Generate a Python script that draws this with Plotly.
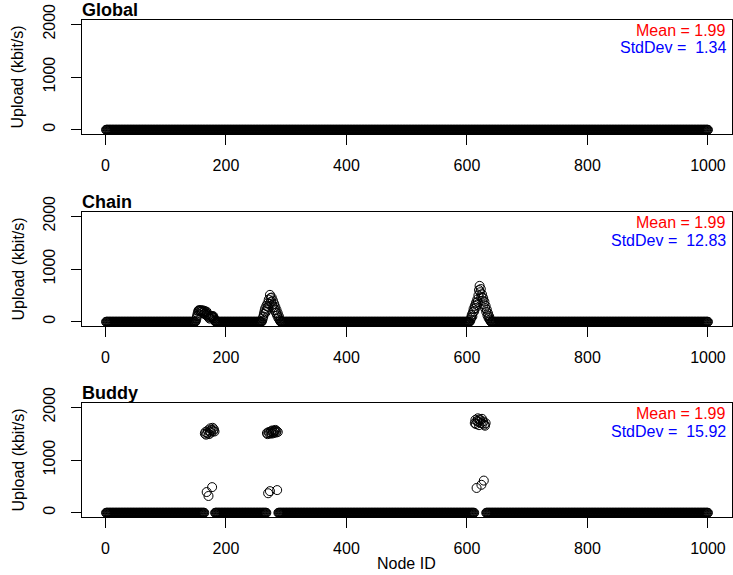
import plotly.graph_objects as go

# ---------------- data ----------------
NODE_IDS = list(range(1, 1001))
X_TICKS = [0, 200, 400, 600, 800, 1000]
Y_TICKS = [0, 1000, 2000]

PANEL_NAMES = ["Global", "Chain", "Buddy"]
PANEL_MEANS = ["1.99", "1.99", "1.99"]
PANEL_SDS = ["1.34", "12.83", "15.92"]

# every node not listed below sits at ~0 kbit/s
BASELINE_UPLOAD = 0.0

global_peak_nodes = []
global_peak_values = []

chain_peak_nodes = [
    150, 151, 152, 153, 154, 155, 156, 157, 158, 159, 160, 161, 162, 163, 164,
    165, 166, 167, 168, 169, 170, 171, 172, 173, 174, 175, 176, 177, 178, 179,
    180, 181, 182,
    260, 261, 262, 263, 264, 265, 266, 267, 268, 269, 270, 271, 272, 273, 274,
    275, 276, 277, 278, 279, 280, 281, 282, 283, 284, 285, 286, 287, 288, 289, 290,
    605, 606, 607, 608, 609, 610, 611, 612, 613, 614, 615, 616, 617, 618, 619,
    620, 621, 622, 623, 624, 625, 626, 627, 628, 629, 630, 631, 632, 633, 634,
    635, 636, 637, 638, 639,
]
chain_peak_values = [
    20, 60, 110, 160, 200, 220, 210, 215, 190, 220, 200, 170, 215, 185, 150,
    205, 175, 130, 190, 150, 100, 130, 80, 60, 90, 110, 100, 110, 90, 105,
    70, 40, 15,
    20, 60, 100, 150, 200, 250, 180, 300, 230, 350, 280, 420, 340, 510, 450,
    380, 460, 320, 400, 270, 340, 220, 280, 170, 220, 120, 160, 70, 100, 40, 15,
    10, 40, 80, 130, 100, 180, 240, 200, 300, 260, 360, 320, 420, 380, 500,
    600, 680, 560, 620, 470, 520, 400, 450, 330, 380, 260, 300, 190, 230, 120,
    160, 70, 100, 40, 20,
]

buddy_peak_nodes = [
    165, 166, 167, 168, 169, 170, 171, 172, 173, 174, 175, 176, 177, 178, 179, 180, 181,
    268, 269, 270, 271, 272, 273, 274, 275, 276, 277, 278, 279, 280, 281, 282, 283, 284, 285, 286,
    613, 614, 615, 616, 617, 618, 619, 620, 621, 622, 623, 624, 625, 626, 627, 628, 629, 630, 631,
]
buddy_peak_values = [
    1500, 1530, 1480, 393, 1510, 1560, 318, 1490, 1540, 1600, 1520, 1570, 486, 1610, 1550, 1580, 1540,
    1510, 1490, 370, 1530, 1500, 410, 1520, 1545, 1500, 1560, 1530, 1510, 1555, 1540, 1570, 1520, 1550, 430, 1530,
    1700, 1760, 1680, 470, 1740, 1790, 1720, 1660, 1770, 1750, 1700, 530, 1780, 1690, 1730, 610, 1670, 1650, 1700,
]


def build_series(peak_nodes, peak_values):
    vals = [BASELINE_UPLOAD for _ in NODE_IDS]
    for n, v in zip(peak_nodes, peak_values):
        vals[n - 1] = v
    return vals


series = [
    build_series(global_peak_nodes, global_peak_values),
    build_series(chain_peak_nodes, chain_peak_values),
    build_series(buddy_peak_nodes, buddy_peak_values),
]

# ---------------- layout geometry ----------------
W, H = 733, 575
ML, MR, MT, MB = 82, 1, 20, 58
PH = H - MT - MB
frames = [(20, 134), (212, 326), (403, 517)]  # pixel top/bottom of each panel
FONT = "Liberation Sans, Arial, Helvetica, sans-serif"

fig = go.Figure()
layout = dict(
    width=W, height=H,
    margin=dict(l=ML, r=MR, t=MT, b=MB, autoexpand=False),
    paper_bgcolor="white", plot_bgcolor="white",
    showlegend=False,
    font=dict(family=FONT, size=16, color="black"),
)
annotations = []

for i, name in enumerate(PANEL_NAMES):
    sfx = "" if i == 0 else str(i + 1)
    fig.add_trace(go.Scatter(
        x=NODE_IDS, y=series[i], mode="markers",
        xaxis="x" + sfx, yaxis="y" + sfx,
        marker=dict(symbol="circle-open", size=9, color="black",
                    line=dict(width=1, color="black")),
        hoverinfo="x+y",
    ))
    top, bot = frames[i]
    dom = [(MT + PH - bot) / PH, (MT + PH - top) / PH]
    axis_common = dict(
        ticks="outside", ticklen=10, tickwidth=1, tickcolor="black",
        showline=True, mirror=True, linecolor="black", linewidth=1,
        showgrid=False, zeroline=False, automargin=False,
        tickfont=dict(family=FONT, size=16, color="black"),
        ticklabeloverflow="allow",
    )
    layout["xaxis" + sfx] = dict(
        domain=[0, 1], anchor="y" + sfx, range=[-38.96, 1039.96],
        tickvals=X_TICKS, ticktext=[str(t) for t in X_TICKS],
        ticklabelstandoff=7, **axis_common)
    layout["yaxis" + sfx] = dict(
        domain=dom, anchor="x" + sfx, range=[-80, 2080],
        tickvals=Y_TICKS, ticktext=[str(t) for t in Y_TICKS],
        tickangle=-90, ticklabelstandoff=10, **axis_common)

    xd, yd = "x" + sfx + " domain", "y" + sfx + " domain"
    annotations.append(dict(
        text="<b>" + name + "</b>", xref=xd, yref=yd, x=0, y=1,
        xanchor="left", yanchor="bottom", xshift=-2, yshift=-2, showarrow=False,
        font=dict(family=FONT, size=18, color="black")))
    annotations.append(dict(
        text="Mean = " + PANEL_MEANS[i], xref=xd, yref=yd, x=1, y=1 - 10.5 / 114,
        xanchor="right", yanchor="middle", xshift=-4, showarrow=False,
        font=dict(family=FONT, size=16, color="#FF0000")))
    annotations.append(dict(
        text="StdDev =\u00a0 " + PANEL_SDS[i], xref=xd, yref=yd, x=1, y=1 - 28 / 114,
        xanchor="right", yanchor="middle", xshift=-4, showarrow=False,
        font=dict(family=FONT, size=16, color="#0000FF")))
    # y-axis title
    annotations.append(dict(
        text="Upload (kbit/s)", xref="paper", yref=yd, x=(17.5 - ML) / (W - ML - MR),
        y=0.5, xanchor="center", yanchor="middle", textangle=-90, showarrow=False,
        font=dict(family=FONT, size=16, color="black")))

annotations.append(dict(
    text="Node ID", xref="paper", yref="paper", x=(406 - ML) / (W - ML - MR),
    y=-(563 - (MT + PH)) / PH,
    xanchor="center", yanchor="middle", showarrow=False,
    font=dict(family=FONT, size=16, color="black")))

layout["annotations"] = annotations
fig.update_layout(**layout)
fig.write_html(
    "out.html",
    config={"displayModeBar": False},
    post_script="document.body.style.margin='0';document.body.style.overflow='hidden';",
)
